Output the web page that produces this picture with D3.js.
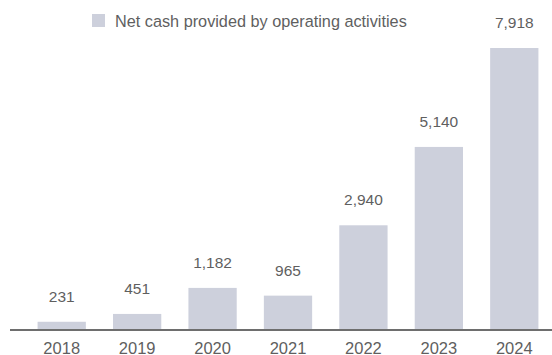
<!DOCTYPE html>
<html>
<head>
<meta charset="utf-8">
<script src="https://cdn.jsdelivr.net/npm/d3@7/dist/d3.min.js"></script>
<style>
  html, body { margin: 0; padding: 0; background: #fff; }
  svg { display: block; }
  text { font-family: "Liberation Sans", Arial, Helvetica, sans-serif; fill: #5f5f5f; }
</style>
</head>
<body>
<svg id="chart" width="552" height="355"></svg>
<script>
// Net cash provided by operating activities, by year
const years = ["2018", "2019", "2020", "2021", "2022", "2023", "2024"];
const netCash = [231, 451, 1182, 965, 2940, 5140, 7918];
const seriesName = "Net cash provided by operating activities";

const baseY = 330;
const svg = d3.select("#chart");
const barColor = "#cdd0dc";
const fontFamily = "'Liberation Sans', Arial, Helvetica, sans-serif";

const x = d3.scaleBand()
  .domain(years)
  .range([24, 552])
  .paddingInner(0.36)
  .paddingOuter(0.18);

const y = d3.scaleLinear()
  .domain([0, 7918])
  .range([baseY, 48]);

const fmt = d3.format(",");

// bars
svg.append("g").selectAll("rect")
  .data(years)
  .join("rect")
  .attr("x", d => x(d))
  .attr("width", x.bandwidth())
  .attr("y", (d, i) => y(netCash[i]))
  .attr("height", (d, i) => baseY - y(netCash[i]))
  .attr("fill", barColor);

// value labels
svg.append("g").selectAll("text")
  .data(years)
  .join("text")
  .attr("x", d => x(d) + x.bandwidth() / 2)
  .attr("y", (d, i) => y(netCash[i]) - 20)
  .attr("text-anchor", "middle")
  .style("font-size", "15.5px")
  .text((d, i) => fmt(netCash[i]));

// x axis
const axis = svg.append("g")
  .attr("transform", `translate(0,${baseY})`)
  .call(d3.axisBottom(x).tickSize(0));
axis.select(".domain")
  .attr("d", "M10,0H552")
  .attr("stroke", "#6e6e6e")
  .attr("stroke-width", 2);
axis.selectAll(".tick text")
  .attr("y", 23.5)
  .attr("dy", null)
  .style("font-family", fontFamily)
  .style("font-size", "16.5px")
  .attr("fill", "#5f5f5f");

// legend
const legend = svg.append("g");
legend.append("rect")
  .attr("x", 92).attr("y", 14)
  .attr("width", 13).attr("height", 13)
  .attr("fill", barColor);
const legendText = legend.append("text")
  .attr("x", 115).attr("y", 26.5)
  .style("font-size", "16px")
  .text(seriesName);
// fit the legend label to its slot width
const w = legendText.node().getComputedTextLength();
legendText.style("font-size", (16 * 292 / w).toFixed(2) + "px");
</script>
</body>
</html>
